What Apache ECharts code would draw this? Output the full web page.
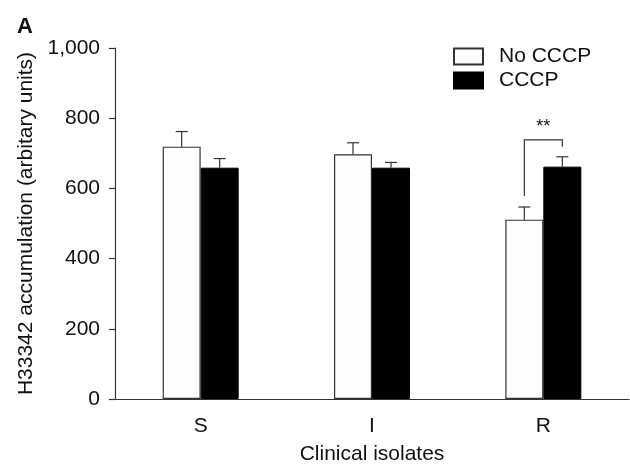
<!DOCTYPE html>
<html>
<head>
<meta charset="utf-8">
<title>H33342 accumulation</title>
<script src="https://cdn.jsdelivr.net/npm/echarts@6/dist/echarts.min.js"></script>
<style>
  html, body { margin: 0; padding: 0; background: #fff; }
  #chart { width: 630px; height: 464px; }
</style>
</head>
<body>
<div id="chart"></div>
<script type="text/javascript">
    // data
    var categories = ['S', 'I', 'R'];
    var noCccpMean = [719, 697, 511];
    var noCccpErr = [43, 33, 36];
    var cccpMean = [659, 659, 662];
    var cccpErr = [26, 15, 28];
    // significance bracket on R: [category, left foot, top, right foot]
    var bracket = [2, 578, 738, 719];
    var sigLabel = '**';

    var FONT = 'Liberation Sans, Arial, Helvetica, sans-serif';
    var AXIS = '#333';
    var HALF = 19; // half bar width, bars sit side by side

    var myChart = echarts.init(document.getElementById('chart'));

    function errorSeries(mean, err, offset) {
        var d = [];
        for (var i = 0; i < mean.length; i++) {
            d.push([i, mean[i], err[i]]);
        }
        return {
            type: 'custom',
            data: d,
            z: 5,
            silent: true,
            renderItem: function (params, api) {
                var base = api.coord([api.value(0), api.value(1)]);
                var top = api.coord([api.value(0), api.value(1) + api.value(2)]);
                var x = base[0] + offset;
                var st = { stroke: AXIS, lineWidth: 1.2 };
                return {
                    type: 'group',
                    children: [
                        { type: 'line', shape: { x1: x, y1: base[1], x2: x, y2: top[1] }, style: st },
                        { type: 'line', shape: { x1: x - 6, y1: top[1], x2: x + 6, y2: top[1] }, style: st }
                    ]
                };
            }
        };
    }

    var option = {
        animation: false,
        textStyle: { fontFamily: FONT },
        graphic: [{
            type: 'text', left: 17, top: 16,
            style: { text: 'A', font: 'bold 22px ' + FONT, fill: '#111' }
        }],
        legend: {
            orient: 'vertical',
            left: 453,
            top: 46,
            padding: 0,
            itemWidth: 29,
            itemHeight: 16,
            itemGap: 3,
            icon: 'rect',
            data: ['No CCCP', 'CCCP'],
            textStyle: { fontSize: 21, color: '#111', padding: [0, 0, 0, 11] }
        },
        grid: { left: 115, right: 1, top: 48, bottom: 65, outerBoundsMode: 'none', containLabel: false },
        xAxis: {
            type: 'category',
            data: categories,
            name: 'Clinical isolates',
            nameLocation: 'middle',
            nameGap: 45,
            nameTextStyle: { fontSize: 21, color: '#111' },
            axisLine: { lineStyle: { color: AXIS, width: 1.2 } },
            axisTick: { length: 6, lineStyle: { color: AXIS, width: 1.2 } },
            axisLabel: { fontSize: 21, color: '#111', margin: 17 }
        },
        yAxis: {
            type: 'value',
            min: 0,
            max: 1000,
            interval: 200,
            name: 'H33342 accumulation (arbitary units)',
            nameLocation: 'middle',
            nameGap: 77,
            nameTextStyle: { fontSize: 21, color: '#111' },
            axisLine: { show: true, lineStyle: { color: AXIS, width: 1.2 } },
            axisTick: { show: true, length: 6, lineStyle: { color: AXIS, width: 1.2 } },
            splitLine: { show: false },
            axisLabel: {
                fontSize: 21, color: '#111', margin: 15,
                formatter: function (v) { return v.toLocaleString('en-US'); }
            }
        },
        series: [
            {
                name: 'No CCCP',
                type: 'bar',
                data: noCccpMean,
                barWidth: 38,
                barGap: 0,
                itemStyle: { color: '#fdfdfd', borderColor: AXIS, borderWidth: 1.2 }
            },
            {
                name: 'CCCP',
                type: 'bar',
                data: cccpMean,
                barWidth: 38,
                barGap: 0,
                itemStyle: { color: '#000', borderColor: '#000', borderWidth: 1 }
            },
            errorSeries(noCccpMean, noCccpErr, -HALF),
            errorSeries(cccpMean, cccpErr, HALF),
            {
                type: 'custom',
                data: [bracket],
                silent: true,
                z: 6,
                renderItem: function (params, api) {
                    var c = api.value(0);
                    var pL = api.coord([c, api.value(1)]);
                    var pT = api.coord([c, api.value(2)]);
                    var pR = api.coord([c, api.value(3)]);
                    var xl = pL[0] - HALF, xr = pL[0] + HALF;
                    return {
                        type: 'group',
                        children: [
                            {
                                type: 'polyline',
                                shape: { points: [[xl, pL[1]], [xl, pT[1]], [xr, pT[1]], [xr, pR[1]]] },
                                style: { stroke: AXIS, lineWidth: 1.2, fill: null }
                            },
                            {
                                type: 'text',
                                style: {
                                    text: sigLabel, x: pL[0], y: pT[1] - 4,
                                    align: 'center', verticalAlign: 'bottom',
                                    font: '18px ' + FONT, fill: '#111'
                                }
                            }
                        ]
                    };
                }
            }
        ]
    };
    myChart.setOption(option);
</script>
</body>
</html>
